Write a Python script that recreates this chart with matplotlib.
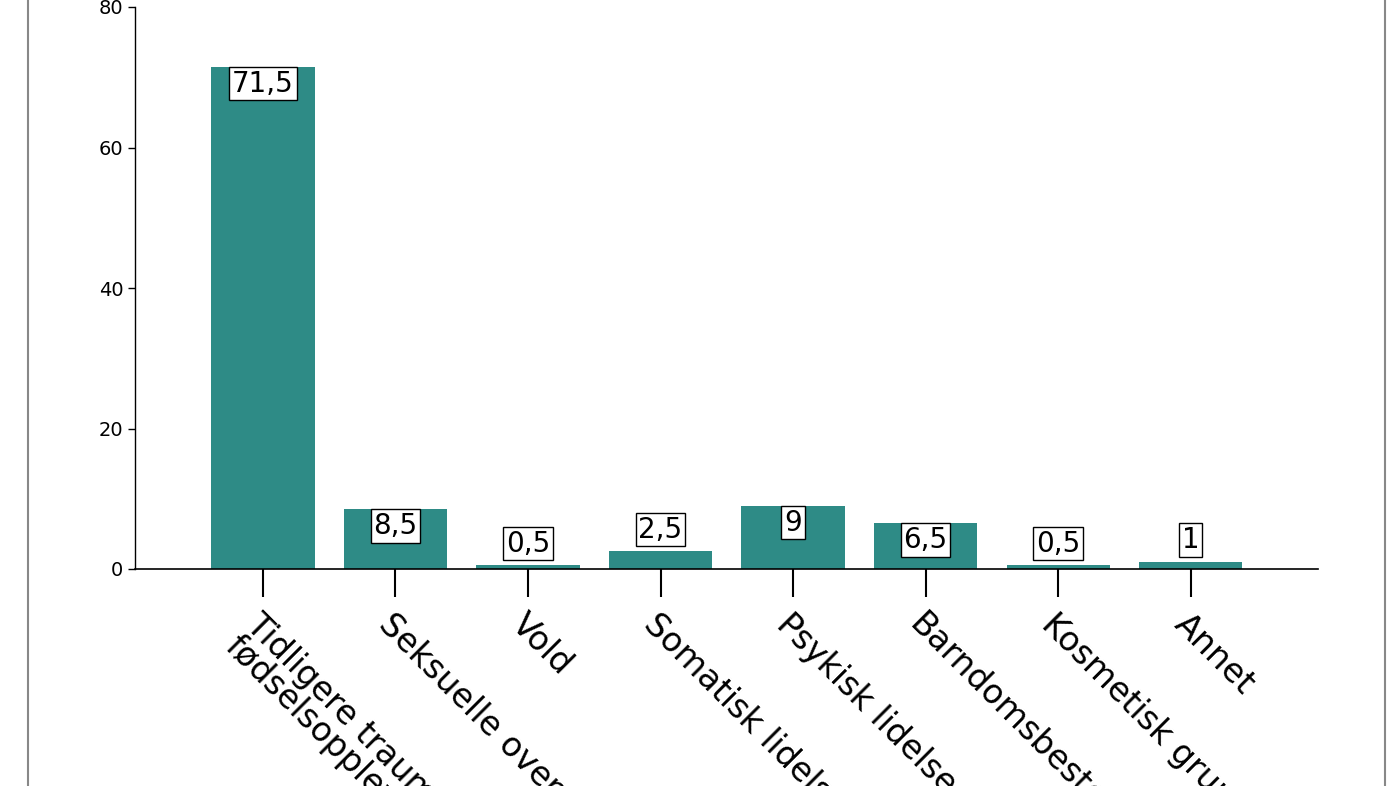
import matplotlib
matplotlib.use("Agg")
import matplotlib.pyplot as plt
from matplotlib.patches import Rectangle

plt.rcParams["font.family"] = ["DejaVu Sans"]

categories = ["Tidligere traume /\nfødselsopplevelse", "Seksuelle overgrep", "Vold",
              "Somatisk lidelse", "Psykisk lidelse", "Barndomsbestemt",
              "Kosmetisk grunn", "Annet"]
values = [71.5, 8.5, 0.5, 2.5, 9, 6.5, 0.5, 1]
yticks = [0, 20, 40, 60, 80]

fig = plt.figure(figsize=(14, 7.86), dpi=100)
ax = fig.add_axes([135 / 1400, 1 - 569 / 786, (1318 - 135) / 1400, (569 - 7) / 786])

x = range(len(values))
ax.bar(x, values, width=0.78, color="#2e8b86")
for i, v in enumerate(values):
    ty = v - 2.4 if v > 5 else v + 3.1
    txt = f"{v:g}".replace(".", ",")
    ax.text(i, ty, txt, ha="center", va="center", fontsize=20,
            bbox=dict(facecolor="white", edgecolor="black", linewidth=1, pad=2))

ax.set_xlim(-0.965, 7.96)
ax.set_ylim(0, 80)
ax.set_yticks(yticks)
ax.set_yticklabels([str(t) for t in yticks], fontsize=14)
ax.set_xticks(list(x))
ax.set_xticklabels(categories, rotation=-45, ha="left", va="top",
                   rotation_mode="anchor", fontsize=24, linespacing=0.9)
ax.tick_params(axis="x", length=20, width=1.5, pad=8)
ax.tick_params(axis="y", length=5, width=1)
for s in ["top", "right"]:
    ax.spines[s].set_visible(False)
ax.spines["left"].set_linewidth(1)
ax.spines["bottom"].set_linewidth(1.2)

# outer frame lines
fig.add_artist(Rectangle((28 / 1400, -0.1), (1385 - 28) / 1400, 1.2,
                         transform=fig.transFigure, fill=False,
                         edgecolor="#888888", linewidth=1.5))

fig.savefig("out.png", dpi=100)
